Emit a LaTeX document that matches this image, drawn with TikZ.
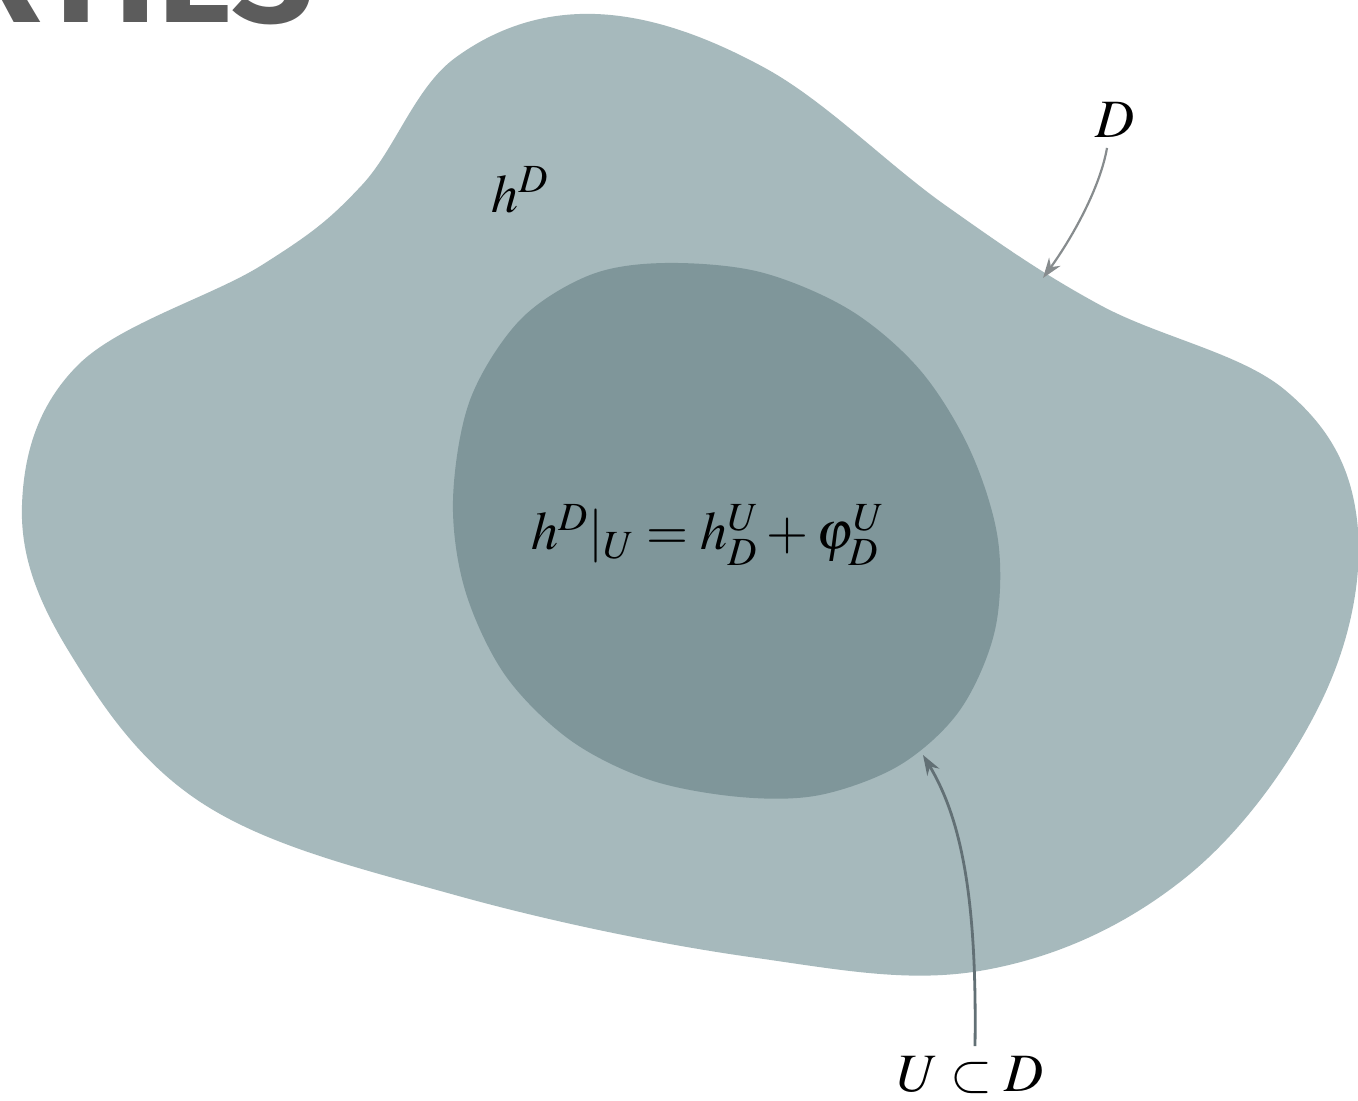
\documentclass[tikz,border=0pt]{standalone}
\usepackage{mathptmx}
\usepackage[no-math]{fontspec}
\newfontfamily\headfont{Fira Sans}
\usetikzlibrary{arrows.meta}
\definecolor{outerfill}{RGB}{166,185,188}
\definecolor{innerfill}{RGB}{127,150,154}
\definecolor{headgray}{RGB}{92,92,92}
\definecolor{arrgray}{RGB}{135,140,142}
\definecolor{arrdark}{RGB}{98,112,117}
\tikzset{
  lbl/.style={inner sep=0pt, font=\fontsize{27}{32}\selectfont},
  conn/.style={line width=1.1pt, -{Stealth[length=10pt,width=7pt]}},
}
\begin{document}
\begin{tikzpicture}[x=0.5pt,y=-0.5pt]
\useasboundingbox (0,0) rectangle (1358,1101);
\clip (0,0) rectangle (1358,1101);
\fill[white] (0,0) rectangle (1358,1101);
% heading (cropped)
\node[anchor=base east, inner sep=0pt, text=headgray,
      font=\headfont\bfseries\fontsize{72}{72}\selectfont] (head) at (314,23) {RTIES};
% outer region D
\fill[outerfill] plot[smooth cycle, tension=0.62] coordinates {
 (595,14) (765,68) (945,205) (1100,305) (1285,390) (1357,520)
 (1322,700) (1185,878) (985,970) (750,957) (455,895) (205,805)
 (68,650) (22,505) (78,365) (262,265) (362,185) (455,58)};
% inner region U
\fill[innerfill] plot[smooth cycle, tension=0.55] coordinates {
 (665,263) (760,272) (850,310) (920,370) (970,450) (998,540)
 (995,630) (960,710) (900,765) (820,795) (740,797) (650,780)
 (570,740) (505,675) (465,590) (453,500) (470,400) (520,320) (590,275)};
% labels
\node[lbl] (hD) at (520,190) {$h^D$};
\node[lbl] (eq) at (708,535) {$h^D|_U = h^U_D + \varphi^U_D$};
\node[lbl] (lblD) at (1115,120) {$D$};
\node[lbl] (lblU) at (970,1075) {$U\subset D$};
\coordinate (tipD) at (1043,278);
\coordinate (tipU) at (923,755);
% connectors
\draw[conn, arrgray] (lblD.south) ++(-8,10) coordinate (sD)
  (sD) .. controls (1100,188) and (1072,238) .. (tipD);
\draw[conn, arrdark, line width=1.4pt] (lblU.north) ++(5,-10) coordinate (sU)
  (sU) .. controls (977,900) and (962,820) .. (tipU);
\end{tikzpicture}
\end{document}
